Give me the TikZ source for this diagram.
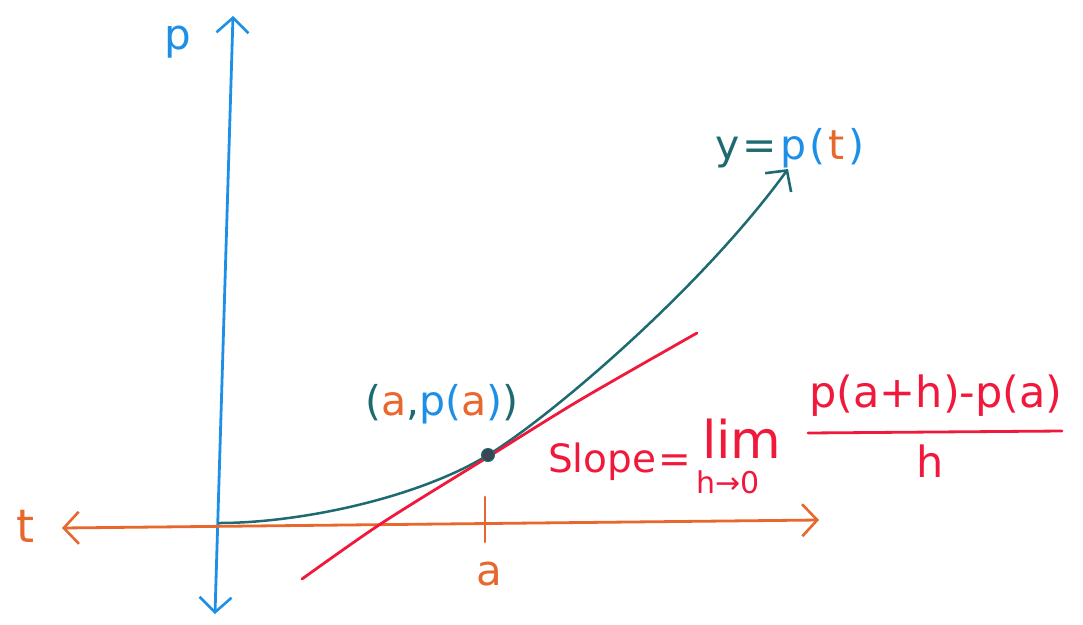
\documentclass[tikz,border=0pt]{standalone}
\usepackage{fontspec}
\setmainfont{DejaVu Sans}
\usetikzlibrary{arrows.meta}
\definecolor{axblue}{HTML}{1E8FE6}
\definecolor{axorange}{HTML}{E8672C}
\definecolor{cteal}{HTML}{1D6B70}
\definecolor{tred}{HTML}{F0193C}
\definecolor{dotgray}{HTML}{3A4652}
\tikzset{
  barb/.tip={Straight Barb[length=15pt,width=32pt,line width=2.6pt]},
  axisline/.style={line width=2.8pt,line cap=round},
  lbl/.style={inner sep=0pt,outer sep=0pt},
}
\newcommand{\fs}[1]{\fontsize{#1}{#1}\selectfont}
\begin{document}
\begin{tikzpicture}[x=1pt,y=-1pt]
\useasboundingbox (0,0) rectangle (1083,624);
% axes
\coordinate (ptop) at (233,16);
\coordinate (pbot) at (215,614);
\coordinate (tleft) at (62,528);
\coordinate (tright) at (819,520);
\draw[axisline,axblue,{barb}-{barb}] (pbot) -- (ptop);
\draw[axisline,axorange,{barb}-{barb}] (tleft) -- (tright);
\node[lbl,axblue] (plabel) at (178,42) {\fs{42}p};
\node[lbl,axorange] (tlabel) at (26,526) {\fs{46}t};
% tick at a
\coordinate (tickt) at (485,497);
\coordinate (tickb) at (485,542);
\draw[axisline,axorange] (tickt) -- (tickb);
\node[lbl,axorange] (alabel) at (489,574) {\fs{42}a};
% curve y = p(t)
\coordinate (c0) at (219,523);
\coordinate (pa) at (488,455);
\coordinate (cend) at (788,169);
\draw[cteal,line width=2.5pt,line cap=round,-{barb}]
  (c0) .. controls (300,523) and (418,498) .. (pa)
       .. controls (550,417) and (700,290) .. (cend);
% tangent line
\draw[tred,line width=2.8pt,line cap=round] plot[smooth,tension=0.5] coordinates
  {(302,579) (382,523) (488,457) (580,400) (697,333)};
% point
\node[circle,fill=dotgray,draw=cteal,line width=1pt,minimum size=13pt,inner sep=0pt] (pt) at (pa) {};
% labels
\node[lbl] (ptlabel) at (442,404) {\fs{41}\color{cteal}(\color{axorange}a\color{cteal},\color{axblue}p(\color{axorange}a\color{axblue})\color{cteal})};
\node[lbl] (curvelabel) at (790,148) {\fs{41}\color{cteal}y\hspace{3pt}=\hspace{4pt}\color{axblue}p\hspace{3pt}(\hspace{3pt}\color{axorange}t\hspace{4pt}\color{axblue})};
% slope formula
\node[lbl,anchor=base west,tred] (slope) at (548,472) {\fs{39}Slope\hspace{2pt}=};
\node[lbl,anchor=base west,tred] (lim) at (702,458) {\fs{52}lim};
\node[lbl,tred] (hto) at (728,482) {\fs{30}h→0};
\node[lbl,tred] (num) at (936,396) {\fs{43}p(a+h)-p(a)};
\coordinate (barl) at (808,433);
\coordinate (barr) at (1062,431);
\draw[tred,line width=2.8pt,line cap=round] (barl) -- (barr);
\node[lbl,tred] (den) at (930,461) {\fs{43}h};
\end{tikzpicture}
\end{document}
